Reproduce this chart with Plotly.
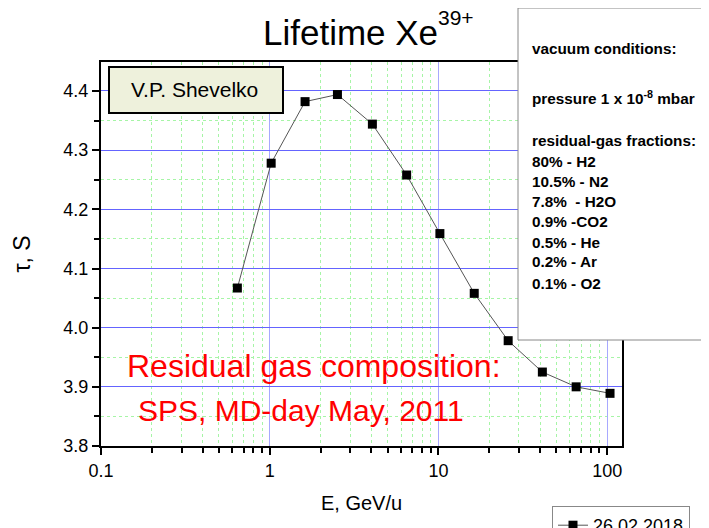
"""
Lifetime of Xe39+ versus energy, residual gas at SPS
"""

import plotly.graph_objects as go

energy = [0.643, 1.02, 1.62, 2.52, 4.06, 6.48, 10.2, 16.3, 25.9, 41.3, 65.5, 104]
lifetime = [4.067, 4.278, 4.382, 4.394, 4.344, 4.258, 4.159, 4.058, 3.978, 3.925, 3.900, 3.889]

x_ticks = [0.1, 1, 10, 100]
x_tick_text = ["0.1", "1", "10", "100"]

vacuum_lines = [
    "vacuum conditions:",
    "pressure 1 x 10<sup>-8</sup> mbar",
    "residual-gas fractions:",
    "80% - H2",
    "10.5% - N2",
    "7.8%  - H2O",
    "0.9% -CO2",
    "0.5% - He",
    "0.2% - Ar",
    "0.1% - O2",
]
vacuum_line_y = [48, 97, 140, 161, 181, 201, 221, 242, 262, 283]

FONT = "Arial, Liberation Sans, sans-serif"

# the page body adds an 8px offset, so the figure is sized to fit what is left
OFF = 8
W, H = 709 - OFF, 528 - OFF
# plot area on screen, in pixels
L, R, T, B = 101, 622, 62, 446


def px_x(p):
    return (p - L) / (R - L)


def px_y(p):
    return (B - p) / (B - T)


fig = go.Figure()
fig.add_trace(
    go.Scatter(
        x=energy,
        y=lifetime,
        mode="lines+markers",
        name="26.02.2018",
        line=dict(color="#555555", width=1),
        marker=dict(symbol="square", size=9, color="black"),
    )
)

axis_common = dict(
    automargin=False,
    showline=True,
    linecolor="black",
    linewidth=2,
    mirror=True,
    ticks="outside",
    ticklen=7,
    tickwidth=1.5,
    tickcolor="black",
    showgrid=True,
    gridwidth=1,
    zeroline=False,
    tickfont=dict(family=FONT, size=18, color="black"),
)
minor_common = dict(
    ticks="outside",
    ticklen=5,
    tickwidth=1.5,
    tickcolor="black",
    showgrid=True,
    gridcolor="#a6f5a6",
    griddash="dot",
    gridwidth=1,
)

fig.update_xaxes(
    type="log",
    range=[-1, 2.088],
    tickvals=x_ticks,
    ticktext=x_tick_text,
    gridcolor="#a8a8ff",
    minor=dict(dtick="D1", **minor_common),
    title=dict(text="E, GeV/u", font=dict(family=FONT, size=20, color="black"), standoff=16),
    **axis_common,
)
fig.update_yaxes(
    range=[3.8, 4.449],
    dtick=0.1,
    tickformat=".1f",
    gridcolor="#6464ff",
    minor=dict(dtick=0.05, **minor_common),
    title=dict(text="τ, S", font=dict(family=FONT, size=23, color="black"), standoff=26),
    **axis_common,
)

shapes = [
    # V.P. Shevelko label box
    dict(type="rect", xref="paper", yref="paper",
         x0=px_x(109), x1=px_x(283), y0=px_y(113), y1=px_y(67),
         fillcolor="#eef1dc", line=dict(color="black", width=2)),
    # vacuum conditions box
    dict(type="rect", xref="paper", yref="paper",
         x0=px_x(518), x1=px_x(730), y0=px_y(340), y1=px_y(8),
         fillcolor="white", line=dict(color="#888888", width=1)),
]

annotations = [
    dict(text="Lifetime Xe", xref="paper", yref="paper",
         x=px_x(261), y=px_y(32), xanchor="left", yanchor="middle",
         showarrow=False, font=dict(family=FONT, size=35, color="black")),
    dict(text="39+", xref="paper", yref="paper",
         x=px_x(436), y=px_y(17), xanchor="left", yanchor="middle",
         showarrow=False, font=dict(family=FONT, size=21, color="black")),
    dict(text="V.P. Shevelko", xref="paper", yref="paper",
         x=px_x(194), y=px_y(90), xanchor="center", yanchor="middle",
         showarrow=False, font=dict(family=FONT, size=21, color="black")),
    dict(text="Residual gas composition:", xref="paper", yref="paper",
         x=px_x(314), y=px_y(366), xanchor="center", yanchor="middle",
         showarrow=False, font=dict(family=FONT, size=32, color="#ff0000")),
    dict(text="SPS, MD-day May, 2011", xref="paper", yref="paper",
         x=px_x(301), y=px_y(410), xanchor="center", yanchor="middle",
         showarrow=False, font=dict(family=FONT, size=30, color="#ff0000")),
]
for line, ly in zip(vacuum_lines, vacuum_line_y):
    annotations.append(
        dict(text="<b>" + line + "</b>", xref="paper", yref="paper",
             x=px_x(530), y=px_y(ly), xanchor="left", yanchor="middle",
             showarrow=False, font=dict(family=FONT, size=15.3, color="black"))
    )

fig.update_layout(
    width=W,
    height=H,
    margin=dict(l=L - OFF, r=709 - R, t=T - OFF, b=528 - B, autoexpand=False),
    paper_bgcolor="white",
    plot_bgcolor="white",
    font=dict(family=FONT, color="black"),
    showlegend=True,
    legend=dict(
        x=px_x(552), y=px_y(506), xanchor="left", yanchor="top",
        bgcolor="white", bordercolor="#888888", borderwidth=1,
        font=dict(family=FONT, size=18, color="black"),
    ),
    shapes=shapes,
    annotations=annotations,
)

fig.write_html("out.html")
